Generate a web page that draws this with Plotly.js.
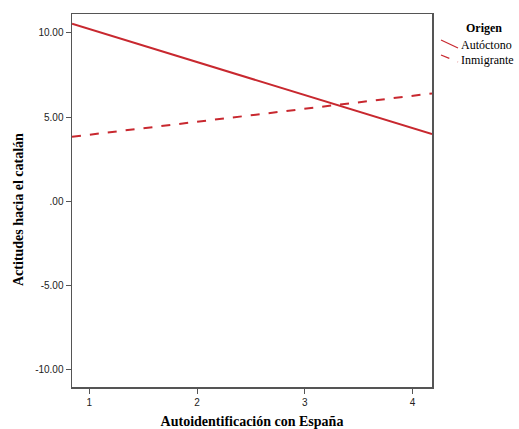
<!DOCTYPE html>
<html><head><meta charset="utf-8">
<script src="https://cdn.plot.ly/plotly-3.0.1.min.js"></script>
<style>html,body{margin:0;padding:0;background:#fff}</style>
</head><body>
<div id="chart" style="width:519px;height:429px"></div>
<script>
const xEnds = [0.84, 4.18];
const autoctono = [10.55, 3.98];
const inmigrante = [3.82, 6.4];
const seriesNames = ["Autóctono", "Inmigrante"];
const legendTitle = "Origen";
const xTicks = [1, 2, 3, 4];
const yTicks = [-10, -5, 0, 5, 10];
const yTickText = ["-10.00", "-5.00", ".00", "5.00", "10.00"];

const red = "#c8282f";
const L = 72, R = 432, T = 14, B = 387;
const px = v => (v - L) / (R - L);
const py = v => (B - v) / (B - T);
const serif = "Liberation Serif";

const traces = [
  {x: xEnds, y: autoctono, name: seriesNames[0], mode: "lines", line: {color: red, width: 2, dash: "solid"}},
  {x: xEnds, y: inmigrante, name: seriesNames[1], mode: "lines", line: {color: red, width: 2, dash: "dash"}}
];
const layout = {
  width: 519, height: 429,
  margin: {l: L, r: 519 - R, t: T, b: 429 - B, autoexpand: false},
  paper_bgcolor: "#fff", plot_bgcolor: "#fff",
  showlegend: false,
  xaxis: {range: [0.84, 4.18], tickvals: xTicks, ticktext: xTicks.map(String),
    showgrid: false, zeroline: false, showline: true, mirror: true, linecolor: "#555", linewidth: 1.5,
    ticks: "outside", ticklen: 5, tickcolor: "#555",
    tickfont: {family: "Liberation Sans", size: 10, color: "#222"},
    title: {text: "<b>Autoidentificación con España</b>", font: {family: serif, size: 14, color: "#000"}, standoff: 10}},
  yaxis: {range: [-11.07, 11.13], tickvals: yTicks, ticktext: yTickText,
    showgrid: false, zeroline: false, showline: true, mirror: true, linecolor: "#555", linewidth: 1.5,
    ticks: "outside", ticklen: 5, tickcolor: "#555",
    tickfont: {family: "Liberation Sans", size: 10, color: "#222"}},
  annotations: [
    {xref: "paper", yref: "paper", x: px(18), y: py(210), text: "<b>Actitudes hacia el catalán</b>", textangle: -90,
      showarrow: false, xanchor: "center", yanchor: "middle", font: {family: serif, size: 14, color: "#000"}},
    {xref: "paper", yref: "paper", x: px(484), y: py(28), text: "<b>" + legendTitle + "</b>",
      showarrow: false, xanchor: "center", yanchor: "middle", font: {family: serif, size: 12, color: "#000"}},
    {xref: "paper", yref: "paper", x: px(460), y: py(45), text: seriesNames[0], borderpad: 0,
      showarrow: false, xanchor: "left", yanchor: "middle", font: {family: serif, size: 12, color: "#000"}},
    {xref: "paper", yref: "paper", x: px(460), y: py(60), text: seriesNames[1], borderpad: 0,
      showarrow: false, xanchor: "left", yanchor: "middle", font: {family: serif, size: 12, color: "#000"}}
  ],
  shapes: [
    {type: "line", xref: "paper", yref: "paper", x0: px(441), y0: py(40), x1: px(458), y1: py(48),
      line: {color: red, width: 1.2, dash: "solid"}},
    {type: "line", xref: "paper", yref: "paper", x0: px(441), y0: py(55), x1: px(458), y1: py(62),
      line: {color: red, width: 1.2, dash: "dash"}}
  ]
};
Plotly.newPlot("chart", traces, layout, {displayModeBar: false, staticPlot: true});
</script>
</body></html>
